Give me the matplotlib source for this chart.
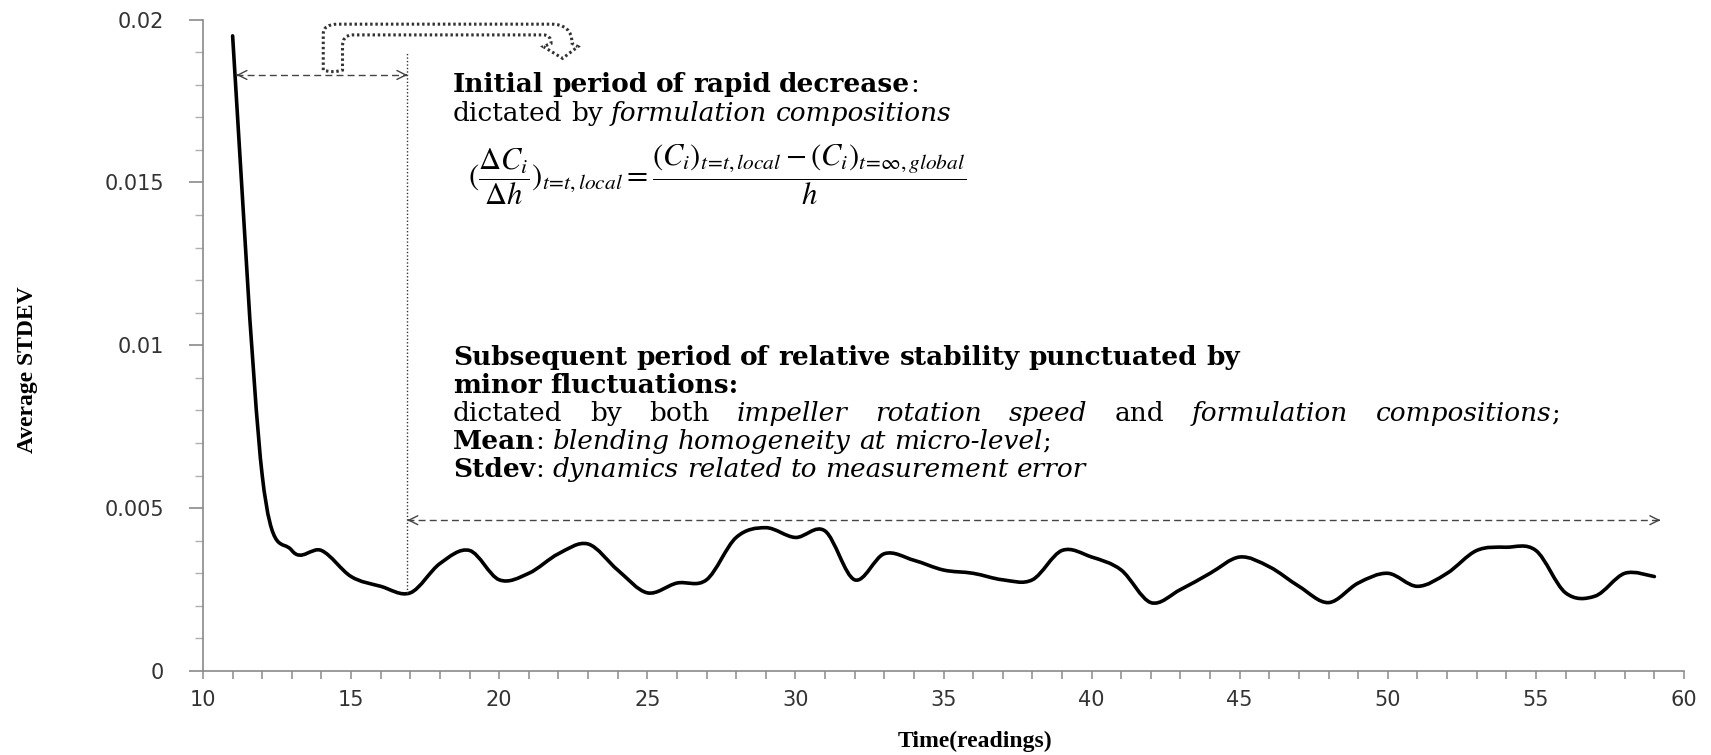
import numpy as np
import matplotlib
matplotlib.use("Agg")
import matplotlib.pyplot as plt
from matplotlib.path import Path
from matplotlib.patches import PathPatch
from matplotlib.ticker import MultipleLocator
from matplotlib.transforms import IdentityTransform

# data
readings = list(range(11, 60))
avg_stdev = [0.0195, 0.0060, 0.0037, 0.0037, 0.0029, 0.0026, 0.0024, 0.0033, 0.0037, 0.0028,
             0.0030, 0.0036, 0.0039, 0.0031, 0.0024, 0.0027, 0.0028, 0.0041, 0.0044, 0.0041,
             0.0043, 0.0028, 0.0036, 0.0034, 0.0031, 0.0030, 0.0028, 0.0028, 0.0037, 0.0035,
             0.0031, 0.0021, 0.0025, 0.0030, 0.0035, 0.0032, 0.0026, 0.0021, 0.0027, 0.0030,
             0.0026, 0.0030, 0.0037, 0.0038, 0.0037, 0.0024, 0.0023, 0.0030, 0.0029]
yticks = [0, 0.005, 0.01, 0.015, 0.02]
ytick_labels = ["0", "0.005", "0.01", "0.015", "0.02"]
xticks = [10, 15, 20, 25, 30, 35, 40, 45, 50, 55, 60]

split_t = 16.9        # end of the rapid-decrease period
upper_arrow_y = 0.0183
lower_arrow_y = 0.00463
lower_arrow_end = 59.2

W, H = 1711, 755
FS = 19
X0 = 453

fig = plt.figure(figsize=(W / 100, H / 100), dpi=100)
ax = fig.add_axes([203 / W, 1 - 671 / H, (1684 - 203) / W, (671 - 19.6) / H])
ax.set_xlim(10, 60)
ax.set_ylim(0, 0.02)


def smooth_path(xs, ys):
    # excel style smoothed line: catmull-rom segments as cubic beziers
    verts = [(xs[0], ys[0])]
    codes = [Path.MOVETO]
    n = len(xs)
    for i in range(n - 1):
        a = max(i - 1, 0)
        b = min(i + 2, n - 1)
        c1 = (xs[i] + (xs[i + 1] - xs[a]) / 6, ys[i] + (ys[i + 1] - ys[a]) / 6)
        c2 = (xs[i + 1] - (xs[b] - xs[i]) / 6, ys[i + 1] - (ys[b] - ys[i]) / 6)
        verts += [c1, c2, (xs[i + 1], ys[i + 1])]
        codes += [Path.CURVE4] * 3
    return Path(verts, codes)


ax.add_patch(PathPatch(smooth_path(readings, avg_stdev), fill=False, lw=2.6,
                       color="black", capstyle="round", joinstyle="round"))

# axes look
for s in ["top", "right"]:
    ax.spines[s].set_visible(False)
for s in ["left", "bottom"]:
    ax.spines[s].set_color("#8a8a8a")
    ax.spines[s].set_linewidth(1.2)
ax.set_yticks(yticks)
ax.set_yticklabels(ytick_labels)
ax.yaxis.set_minor_locator(MultipleLocator(0.001))
ax.set_xticks(xticks)
ax.xaxis.set_minor_locator(MultipleLocator(1))
ax.tick_params(axis="y", which="major", length=10, width=1.2, color="#8a8a8a",
               labelsize=15, labelcolor="#333333", pad=18)
ax.tick_params(axis="y", which="minor", length=6, width=1, color="#b0b0b0")
ax.tick_params(axis="x", which="both", length=6, width=1.1, color="#8a8a8a",
               labelsize=15, labelcolor="#333333", pad=8)
for lab in ax.get_xticklabels() + ax.get_yticklabels():
    lab.set_family("DejaVu Sans")

fig.text(975 / W, 1 - 741 / H, "Time(readings)", family="Liberation Serif",
         fontweight="bold", fontsize=17, ha="center", va="center")
fig.text(28 / W, 1 - 370 / H, "Average STDEV", family="Liberation Serif",
         fontweight="bold", fontsize=17, ha="center", va="center", rotation=90)

# period markers
i_min = readings.index(17)
ax.plot([split_t, split_t], [avg_stdev[i_min], 0.0190], color="#333333", lw=1,
        linestyle=(0, (1, 1.5)))
ax.plot([11.13, split_t], [upper_arrow_y] * 2, color="#444444", lw=1,
        linestyle=(0, (5, 3)))
ax.plot([split_t, lower_arrow_end], [lower_arrow_y] * 2, color="#444444", lw=1,
        linestyle=(0, (5, 3)))
heads = [(11.13, upper_arrow_y, 1), (split_t, upper_arrow_y, -1),
         (split_t, lower_arrow_y, 1), (lower_arrow_end, lower_arrow_y, -1)]
for hx, hy, d in heads:
    ax.annotate("", xy=(hx, hy), xytext=(hx + d * 0.05, hy),
                arrowprops=dict(arrowstyle="->", color="#444444", lw=1,
                                shrinkA=0, shrinkB=0, mutation_scale=16))

# dotted u-turn arrow above the first period
xo, xi = 14.06, 14.71
yb, yo, yi = 0.01845, 0.01986, 0.01953
hook = [
    (Path.MOVETO, (xo, yb)),
    (Path.LINETO, (xo, yo - 0.0003)),
    (Path.CURVE3, (xo, yo)), (Path.CURVE3, (xo + 0.5, yo)),
    (Path.LINETO, (21.75, yo)),
    (Path.CURVE3, (22.46, yo)), (Path.CURVE3, (22.46, 0.01927)),
    (Path.LINETO, (22.66, 0.01917)),
    (Path.LINETO, (22.14, 0.01881)),
    (Path.LINETO, (21.49, 0.01917)),
    (Path.LINETO, (21.75, 0.01927)),
    (Path.CURVE3, (21.75, yi)), (Path.CURVE3, (21.49, yi)),
    (Path.LINETO, (15.03, yi)),
    (Path.CURVE3, (xi, yi)), (Path.CURVE3, (xi, 0.01917)),
    (Path.LINETO, (xi, yb)),
    (Path.CURVE3, ((xo + xi) / 2, yb - 0.0001)), (Path.CURVE3, (xo, yb)),
]
codes, verts = zip(*hook)
ax.add_patch(PathPatch(Path(verts, codes), fill=False, lw=2.2, color="#333333",
                       linestyle=(0, (0.8, 0.9)), clip_on=False))

# annotation text, placed word by word so long lines can be justified
renderer = fig.canvas.get_renderer()
R, B, I = ("normal", "normal"), ("bold", "normal"), ("normal", "italic")


def measure(s, style):
    t = fig.text(0, 0, s, transform=IdentityTransform(), family="DejaVu Serif",
                 fontsize=FS, fontweight=style[0], fontstyle=style[1], va="baseline")
    return t, t.get_window_extent(renderer).width


sp_a, w_a = measure("x x", R)
sp_b, w_b = measure("xx", R)
space = w_a - w_b
sp_a.remove()
sp_b.remove()


def text_line(y, runs, x_end=None):
    items = []
    for words, style, joined in runs:
        for k, word in enumerate(words.split()):
            t, w = measure(word, style)
            items.append((t, w, 0 if (joined and k == 0) else 1))
    gaps = [g for _, _, g in items][1:]
    n = sum(gaps)
    natural = sum(w for _, w, _ in items) + n * space
    extra = 0
    if x_end is not None and n:
        extra = max(0, x_end - X0 - natural) / n
    x = X0
    for k, (t, w, g) in enumerate(items):
        if k > 0:
            x += g * (space + extra)
        t.set_position((x, H - y))
        x += w


text_line(92, [("Initial period of rapid decrease", B, False), (":", R, True)])
text_line(121, [("dictated by", R, False), ("formulation compositions", I, False)])
text_line(365, [("Subsequent period of relative stability punctuated by", B, False)], 1240)
text_line(393, [("minor fluctuations:", B, False)])
text_line(421, [("dictated by both", R, False), ("impeller rotation speed", I, False),
                ("and", R, False), ("formulation compositions", I, False),
                (";", R, True)], 1560)
text_line(449, [("Mean", B, False), (":", R, True),
                ("blending homogeneity at micro-level", I, False), (";", R, True)])
text_line(477, [("Stdev", B, False), (":", R, True),
                ("dynamics related to measurement error", I, False)])

fig.text(468 / W, 1 - 175 / H,
         r"$(\dfrac{\Delta C_i}{\Delta h})_{t\!=\!t,local} = "
         r"\dfrac{(C_i)_{t\!=\!t,local} - (C_i)_{t\!=\!\infty,global}}{h}$",
         math_fontfamily="stix", fontsize=22, va="center", ha="left")

fig.savefig("out.png", dpi=100)
